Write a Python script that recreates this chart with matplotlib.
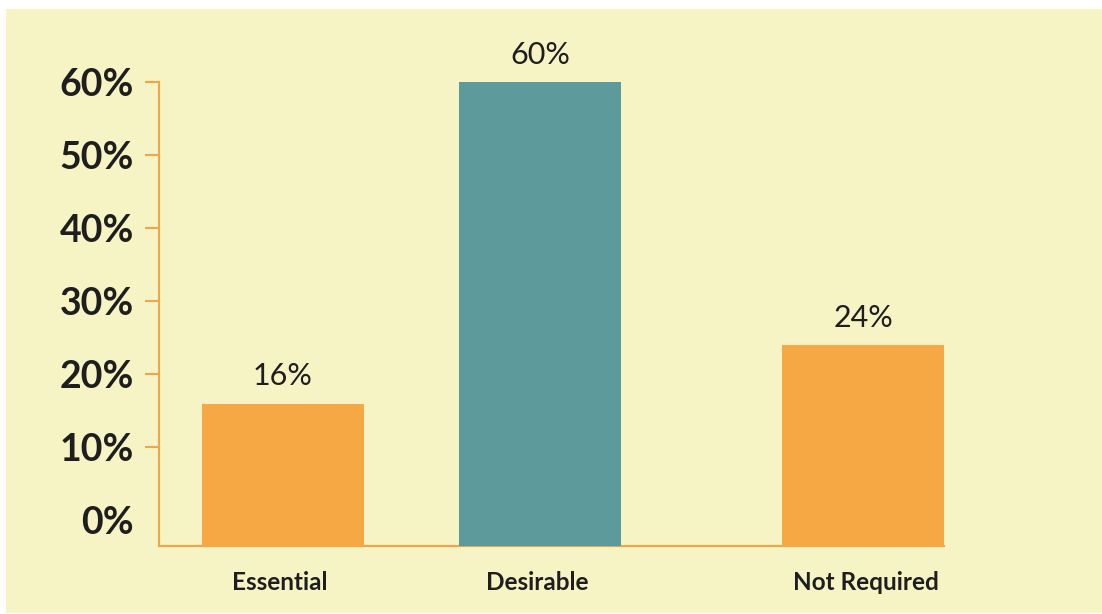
import matplotlib
matplotlib.use('Agg')
import matplotlib.pyplot as plt
from matplotlib.patches import Rectangle

# survey results
categories = ['Essential', 'Desirable', 'Not Required']
shares = [16, 60, 24]
y_ticks = [0, 10, 20, 30, 40, 50, 60]

# bar layout (in bar-width units) and styling
bar_pos = [0.765, 2.352, 4.346]
bar_colors = ['#f6a845', '#5d9a9b', '#f6a845']
base = -3.5  # bars and the x axis sit a little below the 0% line
bg = '#f6f3c5'
axis_col = '#f5a445'
text_col = '#1e1e1e'

plt.rcParams['font.family'] = ['Lato', 'DejaVu Sans']

fig = plt.figure(figsize=(11.02, 6.14), dpi=100, facecolor='white')
# yellow panel behind the chart
fig.patches.append(Rectangle((6 / 1102, 1 / 614), 1096 / 1102, 604 / 614,
                             transform=fig.transFigure, facecolor=bg,
                             edgecolor='none', zorder=-10))

ax = fig.add_axes([159 / 1102, 68 / 614, 785 / 1102, 464 / 614])
ax.set_facecolor('none')

bars = ax.bar(bar_pos, [v - base for v in shares], bottom=base, width=1.0,
              color=bar_colors, zorder=3)

for b, v in zip(bars, shares):
    ax.text(b.get_x() + b.get_width() / 2, v + 1.8, f'{v}%',
            ha='center', va='bottom', fontsize=22, color=text_col)

ax.set_xlim(0, bar_pos[-1] + 0.5)
ax.set_ylim(base, 60)

ax.set_yticks(y_ticks)
ax.set_yticklabels([f'{t}%' for t in y_ticks], fontsize=27,
                   fontweight='bold', color=text_col)
ax.tick_params(axis='y', length=10, width=1.5, color=axis_col, pad=8)
ax.yaxis.get_major_ticks()[0].tick1line.set_visible(False)

ax.set_xticks([p - 0.02 if i < 2 else p + 0.02 for i, p in enumerate(bar_pos)])
ax.set_xticklabels(categories, fontsize=17.5, fontweight='bold', color=text_col)
ax.tick_params(axis='x', length=0, pad=18)

for side in ['top', 'right']:
    ax.spines[side].set_visible(False)
for side in ['left', 'bottom']:
    ax.spines[side].set_color(axis_col)
    ax.spines[side].set_linewidth(1.5)

fig.savefig('out.png', dpi=100, facecolor=fig.get_facecolor())
